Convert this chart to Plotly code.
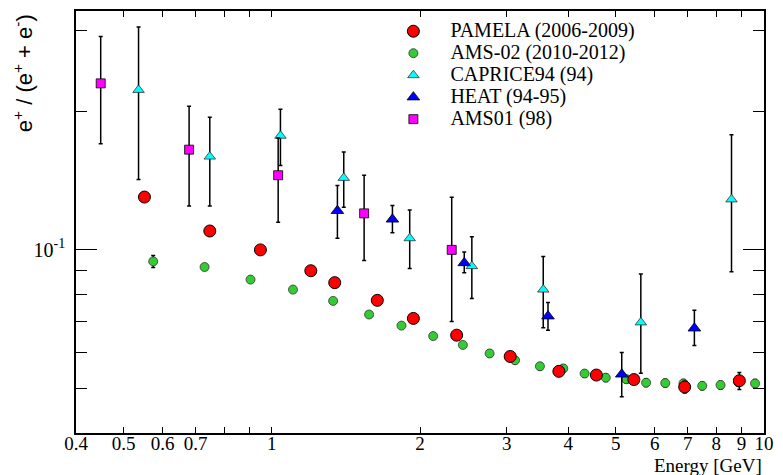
import plotly.graph_objects as go
import numpy as np

# ---------------- data ----------------
pamela_E = [0.551, 0.748, 0.948, 1.20, 1.342, 1.638, 1.939, 2.374, 3.05, 3.83, 4.565, 5.44, 6.90, 8.91]
pamela_v = [0.1302, 0.1099, 0.1000, 0.0901, 0.0849, 0.0777, 0.0710, 0.0653, 0.0587, 0.0545, 0.0535, 0.0523, 0.0504, 0.0520]
pamela_err = [0.002, 0.002, 0.002, 0.002, 0.002, 0.001, 0.001, 0.001, 0.001, 0.001, 0.001, 0.001, 0.0015, 0.0022]

ams02_E = [0.574, 0.730, 0.905, 1.104, 1.332, 1.576, 1.834, 2.127, 2.444, 2.77, 3.12, 3.505,
           3.91, 4.32, 4.77, 5.25, 5.76, 6.30, 6.86, 7.49, 8.16, 8.87, 9.59]
ams02_v = [0.0944, 0.0918, 0.0862, 0.0820, 0.0775, 0.0724, 0.0685, 0.0650, 0.0622, 0.0596, 0.0576, 0.0559,
           0.0553, 0.0539, 0.0528, 0.0524, 0.0515, 0.0514, 0.0513, 0.0507, 0.0509, 0.0516, 0.0513]
ams02_err = [0.0028, 0.001, 0.001, 0.001, 0.001, 0.001, 0.001, 0.001, 0.001, 0.001, 0.001, 0.001,
             0.001, 0.001, 0.001, 0.001, 0.001, 0.001, 0.001, 0.001, 0.001, 0.001, 0.001]

caprice_E = [0.536, 0.748, 1.041, 1.40, 1.906, 2.549, 3.56, 5.62, 8.59]
caprice_v = [0.2224, 0.1594, 0.1769, 0.1433, 0.1060, 0.0922, 0.0820, 0.0696, 0.1287]
caprice_hi = [0.3047, 0.194, 0.202, 0.163, 0.122, 0.1068, 0.0967, 0.0886, 0.1778]
caprice_lo = [0.1421, 0.1245, 0.1524, 0.1238, 0.0911, 0.0784, 0.0678, 0.0540, 0.0897]

heat_E = [1.359, 1.758, 2.46, 3.64, 5.14, 7.22]
heat_v = [0.1216, 0.1165, 0.0937, 0.0718, 0.0537, 0.0676]
heat_hi = [0.138, 0.1249, 0.099, 0.0769, 0.0599, 0.074]
heat_lo = [0.106, 0.109, 0.0892, 0.0669, 0.048, 0.062]

ams01_E = [0.449, 0.679, 1.030, 1.540, 2.32]
ams01_v = [0.2298, 0.165, 0.1452, 0.120, 0.100]
ams01_hi = [0.2903, 0.205, 0.175, 0.1452, 0.130]
ams01_lo = [0.170, 0.1245, 0.1148, 0.0948, 0.0699]

x_tickvals = [0.4, 0.5, 0.6, 0.7, 1, 2, 3, 4, 5, 6, 7, 8, 9, 10]
x_ticktext = ["0.4", "0.5", "0.6", "0.7", "1", "2", "3", "4", "5", "6", "7", "8", "9", "10"]
x_minor = [0.8, 0.9]
x_long_ticks = [1, 10]
y_major = [0.1]
y_major_text = ["10<sup>-1</sup>"]
y_minor = [0.05, 0.06, 0.07, 0.08, 0.09, 0.2, 0.3]

SERIF = "Liberation Serif"
SANS = "Liberation Sans"

def asym(v, hi, lo):
    v = np.array(v); hi = np.array(hi); lo = np.array(lo)
    return (hi - v).tolist(), (v - lo).tolist()

def ebar(plus, minus=None):
    d = dict(type="data", array=plus, symmetric=minus is None, color="black", thickness=1.5, width=2)
    if minus is not None:
        d["arrayminus"] = minus
    return d

def lname(s):
    return "<span style='font-size:20px'>" + s + "</span>"

fig = go.Figure()

fig.add_trace(go.Scatter(
    x=ams02_E, y=ams02_v, mode="markers", name=lname("AMS-02 (2010-2012)"), legendrank=2,
    marker=dict(symbol="circle", size=9, color="#33cc33", line=dict(color="#333333", width=0.8)),
    error_y=ebar(ams02_err)))

fig.add_trace(go.Scatter(
    x=pamela_E, y=pamela_v, mode="markers", name=lname("PAMELA (2006-2009)"), legendrank=1,
    marker=dict(symbol="circle", size=12, color="#ff0000", line=dict(color="black", width=1)),
    error_y=ebar(pamela_err)))

p, m = asym(caprice_v, caprice_hi, caprice_lo)
fig.add_trace(go.Scatter(
    x=caprice_E, y=caprice_v, mode="markers", name=lname("CAPRICE94 (94)"), legendrank=3,
    marker=dict(symbol="triangle-up", size=10, color="#00ffff", line=dict(color="#333333", width=0.8)),
    error_y=ebar(p, m)))

p, m = asym(heat_v, heat_hi, heat_lo)
fig.add_trace(go.Scatter(
    x=heat_E, y=heat_v, mode="markers", name=lname("HEAT (94-95)"), legendrank=4,
    marker=dict(symbol="triangle-up", size=11, color="#0000ff", line=dict(color="black", width=0.8)),
    error_y=ebar(p, m)))

p, m = asym(ams01_v, ams01_hi, ams01_lo)
fig.add_trace(go.Scatter(
    x=ams01_E, y=ams01_v, mode="markers", name=lname("AMS01 (98)"), legendrank=5,
    marker=dict(symbol="square", size=9, color="#ff00ff", line=dict(color="black", width=0.8)),
    error_y=ebar(p, m)))

xr = [np.log10(0.4), 1.0]
yr = [-1.3974, -0.4816]

fig.update_layout(
    width=783, height=475,
    margin=dict(l=76, r=13, t=9, b=42),
    paper_bgcolor="white", plot_bgcolor="white",
    showlegend=True,
    legend=dict(x=0.4366, y=0.990, xanchor="left", yanchor="top",
                bgcolor="rgba(0,0,0,0)", font=dict(family=SERIF, size=14.6, color="black"),
                itemwidth=64, tracegroupgap=0),
    xaxis=dict(type="log", range=xr, showgrid=False, zeroline=False,
               showline=True, linecolor="black", linewidth=1.5, mirror="ticks",
               ticks="inside", ticklen=6, tickwidth=1.2, tickcolor="black",
               tickmode="array", tickvals=x_tickvals, ticktext=x_ticktext,
               ticklabelstandoff=-8,
               tickfont=dict(family=SERIF, size=19, color="black"),
               minor=dict(tickvals=x_minor, ticks="inside", ticklen=6, tickwidth=1.2, tickcolor="black")),
    xaxis2=dict(type="log", range=xr, overlaying="x", anchor="y", side="bottom",
                showgrid=False, zeroline=False, showline=False, mirror="ticks",
                ticks="inside", ticklen=12, tickwidth=1.2, tickcolor="black",
                tickmode="array", tickvals=x_long_ticks, showticklabels=False),
    yaxis=dict(type="log", range=yr, showgrid=False, zeroline=False,
               showline=True, linecolor="black", linewidth=1.5, mirror="ticks",
               ticks="inside", ticklen=21, tickwidth=1.2, tickcolor="black",
               tickmode="array", tickvals=y_major, ticktext=y_major_text,
               ticklabelstandoff=5,
               tickfont=dict(family=SERIF, size=20, color="black"),
               minor=dict(tickvals=y_minor, ticks="inside", ticklen=11, tickwidth=1.2, tickcolor="black")),
    annotations=[
        dict(text="e<sup>+</sup> / (e<sup>+</sup> + e<sup>-</sup>)", textangle=-90,
             xref="paper", yref="paper", x=(22 - 76) / 694, y=(433 - 71) / 424,
             xanchor="center", yanchor="middle", showarrow=False,
             font=dict(family=SANS, size=22, color="black")),
        dict(text="Energy [GeV]", xref="paper", yref="paper", x=1.0, y=(433 - 466) / 424,
             xanchor="right", yanchor="middle", showarrow=False,
             font=dict(family=SERIF, size=19, color="black")),
    ],
)

fig.write_html("out.html")
